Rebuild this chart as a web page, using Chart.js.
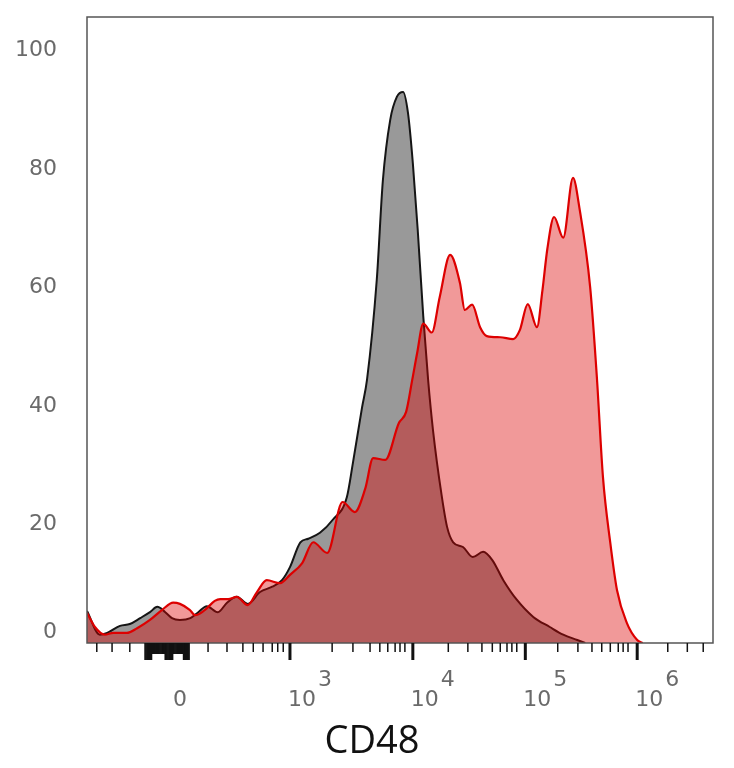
<!DOCTYPE html>
<html><head><meta charset="utf-8">
<script src="https://cdn.jsdelivr.net/npm/chart.js@4/dist/chart.umd.min.js"></script>
<style>html,body{margin:0;padding:0;background:#fff}#wrap{width:734px;height:768px;position:relative}</style>
</head><body><div id="wrap"><canvas id="c"></canvas></div>
<script>
// Display channel (0-1024) and event count (% of max) for each histogram
const isotypeChannel = [0,21,33,54,70,87,103,115,128,139,152,169,182,196,214,229,245,263,283,303,319,332,349,362,381,402,425,435,450,458,474,484,496,507,517,525,533,541,550,558,566,580,589,599,615,631,648,663,681,703,730,757,779,802,815];
const isotypeCount   = [5.4,1.4,1.7,2.9,3.2,4.2,5.2,6.1,5.2,4.2,3.9,4.2,5.2,6.2,5.2,6.8,7.8,6.6,8.6,9.5,10.6,12.8,17.0,17.6,18.6,20.8,24.6,30.4,39.8,44.4,61.3,78.1,88.3,92.2,93.0,89.5,81.0,69.7,55.2,44.4,35.9,25.0,19.6,17.0,16.2,14.5,15.4,14.0,10.6,7.3,4.4,2.7,1.4,0.5,0];
const cd48Channel = [0,13,29,43,65,82,103,123,141,152,168,177,193,209,218,231,245,263,278,294,316,332,352,370,393,418,438,455,468,488,510,522,532,540,550,564,577,594,610,618,630,643,654,676,697,708,721,736,745,753,764,779,795,806,823,834,844,856,867,883,900,909];
const cd48Count   = [5.1,2.7,1.4,1.7,1.7,2.5,3.9,5.6,6.8,6.6,5.6,4.7,5.6,7.1,7.4,7.4,7.8,6.4,8.6,10.6,10.1,11.5,13.5,17.0,15.2,23.8,22.1,26.0,31.2,30.9,37.1,39.0,44.4,48.9,53.9,52.4,58.4,65.5,60.8,56.2,57.1,53.3,51.8,51.6,51.3,52.8,57.2,53.3,59.5,66.5,71.9,68.4,78.5,73.1,60.1,44.9,28.0,16.9,8.9,3.4,0.5,0];

// Axis ticks (display channels) and labels
const yTickValues = [0,20,40,60,80,100];
const xMajorTicks = [332,533,717,900];
const xMajorBase = ['10','10','10','10'];
const xMajorExponents = ['3','4','5','6'];
const xZeroTick = 152;
const xZeroLabel = '0';
const xMinorTicks = [16,41,70,198,229,255,272,288,303,312,321,401,435,463,479,492,504,512,520,591,623,646,663,676,687,695,703,770,803,826,842,856,869,877,885,950,982,1008];
const xDenseLongRanges = [[95,106],[128,141],[158,168]];
const xDenseShortRanges = [[106,128],[141,158]];
const xTitle = 'CD48';

const decor = {
  id: 'decor',
  afterDatasetsDraw(chart) {
    const {ctx, chartArea: a, scales: {x, y}} = chart;
    ctx.save();
    // frame
    ctx.strokeStyle = '#555';
    ctx.lineWidth = 1.5;
    ctx.strokeRect(a.left, a.top, a.right - a.left, a.bottom - a.top);
    // ticks
    ctx.strokeStyle = '#111';
    const tick = (v, len, w) => {
      const px = x.getPixelForValue(v);
      ctx.lineWidth = w;
      ctx.beginPath();
      ctx.moveTo(px, a.bottom);
      ctx.lineTo(px, a.bottom + len);
      ctx.stroke();
    };
    xMinorTicks.forEach(v => tick(v, 9, 1.5));
    xMajorTicks.forEach(v => tick(v, 17, 3));
    xDenseLongRanges.forEach(([s, e]) => { for (let v = s; v <= e; v += 1.5) tick(v, 17, 1.6); });
    xDenseShortRanges.forEach(([s, e]) => { for (let v = s; v <= e; v += 1.5) tick(v, 11, 1.6); });
    // y labels
    ctx.fillStyle = '#6a6a6a';
    ctx.font = '22px "DejaVu Sans"';
    ctx.textAlign = 'right';
    ctx.textBaseline = 'middle';
    yTickValues.forEach(v => {
      const py = y.getPixelForValue(v) - (v === 0 ? 11 : 0);
      ctx.fillText(String(v), 57, py);
    });
    // x labels
    ctx.textAlign = 'center';
    ctx.fillText(xZeroLabel, x.getPixelForValue(xZeroTick), 700);
    xMajorTicks.forEach((v, i) => {
      const px = x.getPixelForValue(v);
      ctx.fillText(xMajorBase[i], px + 12, 700);
      ctx.fillText(xMajorExponents[i], px + 35, 680);
    });
    // title
    ctx.fillStyle = '#111';
    ctx.font = '38px "Open Sans"';
    ctx.fillText(xTitle, 372, 742);
    ctx.restore();
  }
};

new Chart(document.getElementById('c'), {
  type: 'line',
  data: {
    datasets: [
      {
        label: 'CD48',
        data: cd48Channel.map((c, i) => ({x: c, y: cd48Count[i]})),
        borderColor: '#dd0000',
        borderWidth: 2.2,
        backgroundColor: 'rgba(220,0,0,0.4)',
        fill: 'origin',
        pointRadius: 0,
        cubicInterpolationMode: 'monotone',
        order: 1
      },
      {
        label: 'Isotype',
        data: isotypeChannel.map((c, i) => ({x: c, y: isotypeCount[i]})),
        borderColor: '#151515',
        borderWidth: 2,
        backgroundColor: '#999999',
        fill: 'origin',
        pointRadius: 0,
        cubicInterpolationMode: 'monotone',
        order: 2
      }
    ]
  },
  options: {
    responsive: true,
    maintainAspectRatio: false,
    animation: false,
    layout: {padding: {left: 0, right: 21, top: 17, bottom: 0}},
    plugins: {legend: {display: false}, tooltip: {enabled: false}},
    scales: {
      x: {type: 'linear', min: 0, max: 1024, grid: {display: false}, border: {display: false}, ticks: {display: false}, afterFit(s) { s.height = 125; }},
      y: {type: 'linear', min: 0, max: 105.65, grid: {display: false}, border: {display: false}, ticks: {display: false}, afterFit(s) { s.width = 87; }}
    }
  },
  plugins: [decor]
});
</script>
</body></html>
